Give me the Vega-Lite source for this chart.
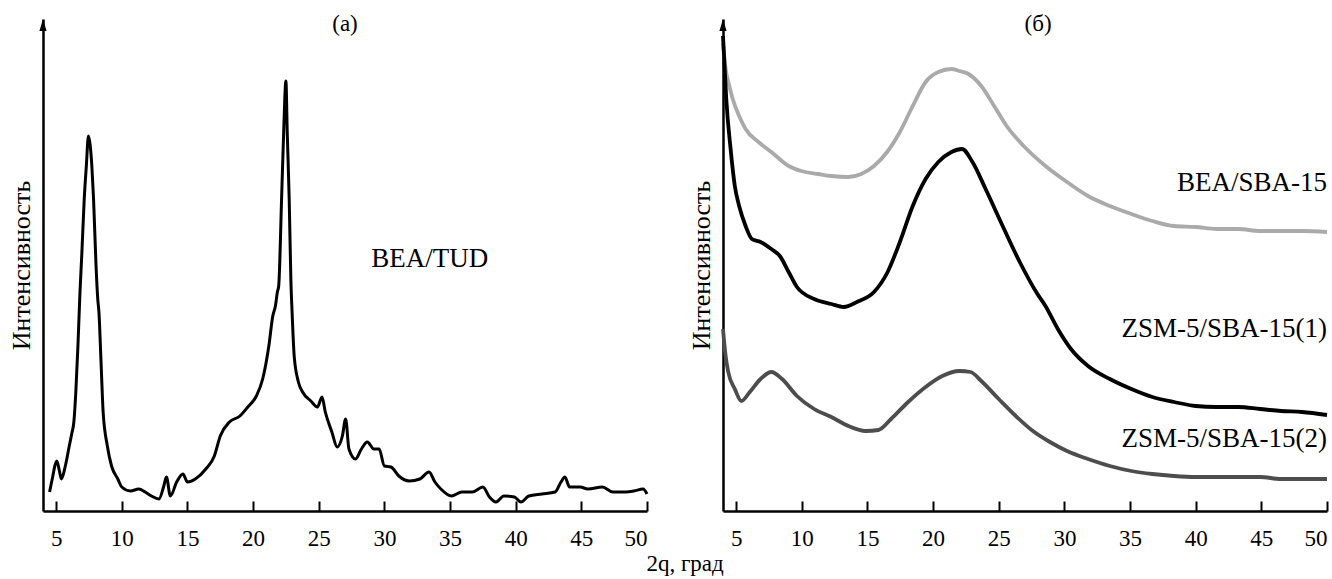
{
  "$schema": "https://vega.github.io/schema/vega-lite/v6.json",
  "background": "white",
  "padding": {"left": 8, "top": 12, "right": 3, "bottom": 0},
  "bounds": "flush",
  "spacing": 76,
  "config": {
    "font": "Liberation Serif",
    "view": {"stroke": null},
    "axis": {"labelFont": "Liberation Serif", "titleFont": "Liberation Serif"},
    "text": {"font": "Liberation Serif"}
  },
  "datasets": {
    "a": [
      {"x":4.5,"y":19},{"x":4.75,"y":35},{"x":4.9,"y":45},{"x":5.05,"y":50},{"x":5.25,"y":40},{"x":5.4,"y":32},{"x":5.7,"y":45},{"x":6.0,"y":65},{"x":6.2,"y":78},{"x":6.35,"y":89},{"x":6.5,"y":119},{"x":6.66,"y":165},{"x":6.82,"y":220},{"x":6.95,"y":255},{"x":7.14,"y":312},{"x":7.3,"y":345},{"x":7.46,"y":375},{"x":7.6,"y":365},{"x":7.72,"y":345},{"x":7.85,"y":312},{"x":8.04,"y":245},{"x":8.17,"y":212},{"x":8.26,"y":199},{"x":8.42,"y":149},{"x":8.58,"y":99},{"x":8.9,"y":65},{"x":9.22,"y":45},{"x":9.7,"y":32},{"x":10.0,"y":24},{"x":10.66,"y":20},{"x":11.3,"y":22},{"x":11.78,"y":19},{"x":12.26,"y":15},{"x":12.83,"y":12},{"x":13.2,"y":25},{"x":13.4,"y":34},{"x":13.7,"y":15},{"x":14.18,"y":29},{"x":14.66,"y":37},{"x":15.0,"y":29},{"x":15.6,"y":32},{"x":16.4,"y":42},{"x":17.05,"y":55},{"x":17.5,"y":75},{"x":18.2,"y":89},{"x":19.0,"y":95},{"x":19.6,"y":104},{"x":20.25,"y":115},{"x":20.73,"y":132},{"x":21.2,"y":165},{"x":21.5,"y":195},{"x":21.7,"y":205},{"x":21.85,"y":219},{"x":21.95,"y":225},{"x":22.17,"y":312},{"x":22.33,"y":379},{"x":22.5,"y":430},{"x":22.6,"y":379},{"x":22.75,"y":312},{"x":22.88,"y":230},{"x":22.97,"y":199},{"x":23.13,"y":155},{"x":23.45,"y":129},{"x":23.77,"y":119},{"x":24.4,"y":110},{"x":24.9,"y":104},{"x":25.25,"y":114},{"x":25.5,"y":99},{"x":26.0,"y":79},{"x":26.4,"y":64},{"x":26.8,"y":75},{"x":27.05,"y":92},{"x":27.3,"y":62},{"x":27.8,"y":52},{"x":28.25,"y":62},{"x":28.7,"y":69},{"x":29.2,"y":62},{"x":29.6,"y":62},{"x":30.0,"y":45},{"x":30.5,"y":44},{"x":31.1,"y":35},{"x":31.9,"y":30},{"x":32.7,"y":32},{"x":33.4,"y":39},{"x":33.85,"y":29},{"x":34.3,"y":22},{"x":35.1,"y":15},{"x":35.9,"y":19},{"x":36.7,"y":19},{"x":37.5,"y":24},{"x":38.0,"y":14},{"x":38.5,"y":9},{"x":39.1,"y":15},{"x":39.9,"y":14},{"x":40.4,"y":9},{"x":41.0,"y":15},{"x":42.0,"y":17},{"x":43.0,"y":19},{"x":43.45,"y":29},{"x":43.75,"y":34},{"x":44.1,"y":24},{"x":44.9,"y":24},{"x":45.5,"y":22},{"x":46.6,"y":24},{"x":47.4,"y":19},{"x":48.4,"y":19},{"x":49.0,"y":20},{"x":49.7,"y":22},{"x":50.0,"y":17}
    ],
    "b": [
      {"s":"BEA/SBA-15","x":4.0,"y":468},{"s":"BEA/SBA-15","x":4.09,"y":455},{"s":"BEA/SBA-15","x":4.25,"y":438},{"s":"BEA/SBA-15","x":4.41,"y":429},{"s":"BEA/SBA-15","x":4.74,"y":412},{"s":"BEA/SBA-15","x":5.23,"y":395},{"s":"BEA/SBA-15","x":5.72,"y":382},{"s":"BEA/SBA-15","x":6.7,"y":369},{"s":"BEA/SBA-15","x":7.68,"y":359},{"s":"BEA/SBA-15","x":9.0,"y":345},{"s":"BEA/SBA-15","x":9.96,"y":340},{"s":"BEA/SBA-15","x":11.27,"y":337},{"s":"BEA/SBA-15","x":12.25,"y":335},{"s":"BEA/SBA-15","x":13.55,"y":334},{"s":"BEA/SBA-15","x":14.53,"y":337},{"s":"BEA/SBA-15","x":15.5,"y":345},{"s":"BEA/SBA-15","x":16.5,"y":359},{"s":"BEA/SBA-15","x":17.47,"y":379},{"s":"BEA/SBA-15","x":18.45,"y":405},{"s":"BEA/SBA-15","x":19.43,"y":429},{"s":"BEA/SBA-15","x":20.4,"y":439},{"s":"BEA/SBA-15","x":21.4,"y":442},{"s":"BEA/SBA-15","x":22.0,"y":440},{"s":"BEA/SBA-15","x":22.7,"y":437},{"s":"BEA/SBA-15","x":23.67,"y":425},{"s":"BEA/SBA-15","x":24.65,"y":405},{"s":"BEA/SBA-15","x":25.6,"y":385},{"s":"BEA/SBA-15","x":26.9,"y":365},{"s":"BEA/SBA-15","x":28.56,"y":345},{"s":"BEA/SBA-15","x":30.2,"y":329},{"s":"BEA/SBA-15","x":31.8,"y":315},{"s":"BEA/SBA-15","x":33.46,"y":305},{"s":"BEA/SBA-15","x":35.1,"y":297},{"s":"BEA/SBA-15","x":36.7,"y":290},{"s":"BEA/SBA-15","x":38.35,"y":285},{"s":"BEA/SBA-15","x":40.0,"y":284},{"s":"BEA/SBA-15","x":41.6,"y":282},{"s":"BEA/SBA-15","x":43.25,"y":282},{"s":"BEA/SBA-15","x":44.9,"y":280},{"s":"BEA/SBA-15","x":46.5,"y":280},{"s":"BEA/SBA-15","x":48.1,"y":280},{"s":"BEA/SBA-15","x":50,"y":279},
      {"s":"ZSM-5/SBA-15(1)","x":4.0,"y":475},{"s":"ZSM-5/SBA-15(1)","x":4.1,"y":450},{"s":"ZSM-5/SBA-15(1)","x":4.25,"y":412},{"s":"ZSM-5/SBA-15(1)","x":4.58,"y":362},{"s":"ZSM-5/SBA-15(1)","x":4.9,"y":325},{"s":"ZSM-5/SBA-15(1)","x":5.23,"y":305},{"s":"ZSM-5/SBA-15(1)","x":5.72,"y":285},{"s":"ZSM-5/SBA-15(1)","x":6.2,"y":272},{"s":"ZSM-5/SBA-15(1)","x":6.86,"y":269},{"s":"ZSM-5/SBA-15(1)","x":7.68,"y":262},{"s":"ZSM-5/SBA-15(1)","x":8.33,"y":255},{"s":"ZSM-5/SBA-15(1)","x":9.0,"y":239},{"s":"ZSM-5/SBA-15(1)","x":9.63,"y":224},{"s":"ZSM-5/SBA-15(1)","x":10.94,"y":212},{"s":"ZSM-5/SBA-15(1)","x":12.25,"y":207},{"s":"ZSM-5/SBA-15(1)","x":13.2,"y":204},{"s":"ZSM-5/SBA-15(1)","x":14.2,"y":209},{"s":"ZSM-5/SBA-15(1)","x":15.5,"y":219},{"s":"ZSM-5/SBA-15(1)","x":16.5,"y":238},{"s":"ZSM-5/SBA-15(1)","x":17.47,"y":269},{"s":"ZSM-5/SBA-15(1)","x":18.45,"y":305},{"s":"ZSM-5/SBA-15(1)","x":19.43,"y":332},{"s":"ZSM-5/SBA-15(1)","x":20.4,"y":349},{"s":"ZSM-5/SBA-15(1)","x":21.4,"y":359},{"s":"ZSM-5/SBA-15(1)","x":22.2,"y":362},{"s":"ZSM-5/SBA-15(1)","x":23.0,"y":349},{"s":"ZSM-5/SBA-15(1)","x":24.0,"y":322},{"s":"ZSM-5/SBA-15(1)","x":25.3,"y":285},{"s":"ZSM-5/SBA-15(1)","x":26.6,"y":249},{"s":"ZSM-5/SBA-15(1)","x":27.9,"y":218},{"s":"ZSM-5/SBA-15(1)","x":28.56,"y":205},{"s":"ZSM-5/SBA-15(1)","x":29.5,"y":182},{"s":"ZSM-5/SBA-15(1)","x":30.5,"y":162},{"s":"ZSM-5/SBA-15(1)","x":31.8,"y":145},{"s":"ZSM-5/SBA-15(1)","x":33.46,"y":132},{"s":"ZSM-5/SBA-15(1)","x":35.1,"y":122},{"s":"ZSM-5/SBA-15(1)","x":36.7,"y":114},{"s":"ZSM-5/SBA-15(1)","x":38.35,"y":109},{"s":"ZSM-5/SBA-15(1)","x":40.0,"y":105},{"s":"ZSM-5/SBA-15(1)","x":41.6,"y":104},{"s":"ZSM-5/SBA-15(1)","x":43.25,"y":104},{"s":"ZSM-5/SBA-15(1)","x":44.9,"y":102},{"s":"ZSM-5/SBA-15(1)","x":46.5,"y":100},{"s":"ZSM-5/SBA-15(1)","x":48.1,"y":99},{"s":"ZSM-5/SBA-15(1)","x":50,"y":96},
      {"s":"ZSM-5/SBA-15(2)","x":4.0,"y":182},{"s":"ZSM-5/SBA-15(2)","x":4.2,"y":155},{"s":"ZSM-5/SBA-15(2)","x":4.4,"y":139},{"s":"ZSM-5/SBA-15(2)","x":4.9,"y":122},{"s":"ZSM-5/SBA-15(2)","x":5.4,"y":110},{"s":"ZSM-5/SBA-15(2)","x":6.04,"y":119},{"s":"ZSM-5/SBA-15(2)","x":6.86,"y":132},{"s":"ZSM-5/SBA-15(2)","x":7.68,"y":139},{"s":"ZSM-5/SBA-15(2)","x":8.5,"y":132},{"s":"ZSM-5/SBA-15(2)","x":9.63,"y":115},{"s":"ZSM-5/SBA-15(2)","x":10.94,"y":102},{"s":"ZSM-5/SBA-15(2)","x":12.25,"y":94},{"s":"ZSM-5/SBA-15(2)","x":13.55,"y":85},{"s":"ZSM-5/SBA-15(2)","x":14.86,"y":80},{"s":"ZSM-5/SBA-15(2)","x":15.84,"y":81},{"s":"ZSM-5/SBA-15(2)","x":16.8,"y":92},{"s":"ZSM-5/SBA-15(2)","x":18.1,"y":109},{"s":"ZSM-5/SBA-15(2)","x":19.43,"y":124},{"s":"ZSM-5/SBA-15(2)","x":20.7,"y":135},{"s":"ZSM-5/SBA-15(2)","x":22.0,"y":140},{"s":"ZSM-5/SBA-15(2)","x":22.85,"y":139},{"s":"ZSM-5/SBA-15(2)","x":23.67,"y":130},{"s":"ZSM-5/SBA-15(2)","x":25.0,"y":112},{"s":"ZSM-5/SBA-15(2)","x":26.3,"y":95},{"s":"ZSM-5/SBA-15(2)","x":27.6,"y":80},{"s":"ZSM-5/SBA-15(2)","x":28.9,"y":69},{"s":"ZSM-5/SBA-15(2)","x":30.2,"y":60},{"s":"ZSM-5/SBA-15(2)","x":31.8,"y":52},{"s":"ZSM-5/SBA-15(2)","x":33.46,"y":45},{"s":"ZSM-5/SBA-15(2)","x":35.1,"y":40},{"s":"ZSM-5/SBA-15(2)","x":36.7,"y":37},{"s":"ZSM-5/SBA-15(2)","x":38.35,"y":35},{"s":"ZSM-5/SBA-15(2)","x":40.0,"y":34},{"s":"ZSM-5/SBA-15(2)","x":41.6,"y":34},{"s":"ZSM-5/SBA-15(2)","x":43.25,"y":34},{"s":"ZSM-5/SBA-15(2)","x":44.9,"y":34},{"s":"ZSM-5/SBA-15(2)","x":46.5,"y":32},{"s":"ZSM-5/SBA-15(2)","x":48.1,"y":32},{"s":"ZSM-5/SBA-15(2)","x":50,"y":32}
    ]
  },
  "hconcat": [
    {
      "width": 604,
      "height": 492,
      "layer": [
        {"data": {"name": "a"}, "mark": {"type": "line", "color": "black", "strokeWidth": 3, "interpolate": "monotone"},
          "encoding": {
            "x": {"field": "x", "type": "quantitative", "scale": {"domain": [4, 50], "nice": false, "zero": false},
              "axis": {"values": [5,10,15,20,25,30,35,40,45,50], "title": null, "grid": false, "domainColor": "black", "domainWidth": 2.5, "tickColor": "black", "tickWidth": 2, "tickSize": -10, "labelFontSize": 23, "labelColor": "black", "labelPadding": 26, "labelFlush": true}},
            "y": {"field": "y", "type": "quantitative", "scale": {"domain": [0, 492], "nice": false, "zero": false},
              "axis": {"title": "Интенсивность", "ticks": false, "labels": false, "grid": false, "domainColor": "black", "domainWidth": 2.5, "titleFontSize": 26, "titleFontWeight": "normal", "titleColor": "black", "titlePadding": 9}}
          }},
        {"data": {"values": [{"k": 1}]}, "mark": {"type": "point", "shape": "M0,0L0.3,1L-0.3,1Z", "filled": true, "color": "black", "opacity": 1, "size": 576, "strokeWidth": 0},
          "encoding": {"x": {"datum": 4, "type": "quantitative"}, "y": {"datum": 492, "type": "quantitative"}}},
        {"data": {"values": [{"k": 1}]}, "mark": {"type": "text", "text": "BEA/TUD", "fontSize": 27, "align": "left", "baseline": "middle", "color": "black"},
          "encoding": {"x": {"datum": 29.0, "type": "quantitative"}, "y": {"datum": 252, "type": "quantitative"}}},
        {"data": {"values": [{"k": 1}]}, "mark": {"type": "text", "text": "(а)", "fontSize": 23, "align": "center", "baseline": "middle", "color": "black"},
          "encoding": {"x": {"datum": 27.0, "type": "quantitative"}, "y": {"datum": 487, "type": "quantitative"}}},
        {"data": {"values": [{"k": 1}]}, "mark": {"type": "text", "text": "2q, град", "fontSize": 23, "align": "center", "baseline": "middle", "color": "black"},
          "encoding": {"x": {"datum": 52.9, "type": "quantitative"}, "y": {"datum": -53, "type": "quantitative"}}}
      ]
    },
    {
      "width": 604,
      "height": 492,
      "layer": [
        {"data": {"name": "b"}, "mark": {"type": "line", "strokeWidth": 3.8, "interpolate": "monotone"},
          "encoding": {
            "x": {"field": "x", "type": "quantitative", "scale": {"domain": [4, 50], "nice": false, "zero": false},
              "axis": {"values": [5,10,15,20,25,30,35,40,45,50], "title": null, "grid": false, "domainColor": "black", "domainWidth": 2.5, "tickColor": "black", "tickWidth": 2, "tickSize": -10, "labelFontSize": 23, "labelColor": "black", "labelPadding": 26, "labelFlush": true}},
            "y": {"field": "y", "type": "quantitative", "scale": {"domain": [0, 492], "nice": false, "zero": false},
              "axis": {"title": "Интенсивность", "ticks": false, "labels": false, "grid": false, "domainColor": "black", "domainWidth": 2.5, "titleFontSize": 26, "titleFontWeight": "normal", "titleColor": "black", "titlePadding": 9}},
            "color": {"field": "s", "type": "nominal", "scale": {"domain": ["BEA/SBA-15", "ZSM-5/SBA-15(1)", "ZSM-5/SBA-15(2)"], "range": ["#aaaaaa", "#000000", "#4d4d4d"]}, "legend": null}
          }},
        {"data": {"values": [{"k": 1}]}, "mark": {"type": "point", "shape": "M0,0L0.3,1L-0.3,1Z", "filled": true, "color": "black", "opacity": 1, "size": 576, "strokeWidth": 0},
          "encoding": {"x": {"datum": 4, "type": "quantitative"}, "y": {"datum": 492, "type": "quantitative"}}},
        {"data": {"values": [{"k": 1}]}, "mark": {"type": "text", "text": "(б)", "fontSize": 23, "align": "center", "baseline": "middle", "color": "black"},
          "encoding": {"x": {"datum": 28.0, "type": "quantitative"}, "y": {"datum": 487, "type": "quantitative"}}},
        {"data": {"values": [{"k": 1}]}, "mark": {"type": "text", "text": "BEA/SBA-15", "fontSize": 27, "align": "right", "baseline": "middle", "color": "black"},
          "encoding": {"x": {"datum": 50, "type": "quantitative"}, "y": {"datum": 328, "type": "quantitative"}}},
        {"data": {"values": [{"k": 1}]}, "mark": {"type": "text", "text": "ZSM-5/SBA-15(1)", "fontSize": 27, "align": "right", "baseline": "middle", "color": "black"},
          "encoding": {"x": {"datum": 50, "type": "quantitative"}, "y": {"datum": 182, "type": "quantitative"}}},
        {"data": {"values": [{"k": 1}]}, "mark": {"type": "text", "text": "ZSM-5/SBA-15(2)", "fontSize": 27, "align": "right", "baseline": "middle", "color": "black"},
          "encoding": {"x": {"datum": 50, "type": "quantitative"}, "y": {"datum": 72, "type": "quantitative"}}}
      ]
    }
  ]
}
